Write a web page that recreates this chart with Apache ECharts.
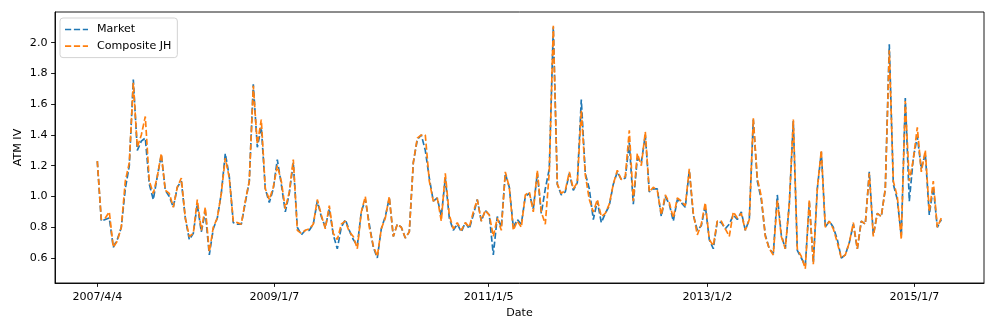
<!DOCTYPE html>
<html><head><meta charset="utf-8">
<script src="https://cdn.jsdelivr.net/npm/echarts@6/dist/echarts.min.js"></script>
<style>html,body{margin:0;padding:0;background:#fff}#c{width:997px;height:332px}</style>
</head><body><div id="c"></div>
<script>
// x tick labels (dates) and the sample index where each sits
const tickLabels = ['2007/4/4', '2009/1/7', '2011/1/5', '2013/1/2', '2015/1/7'];
const tickIndex = [0, 44.25, 97.85, 152.5, 204.25];
const yTicks = [0.6, 0.8, 1.0, 1.2, 1.4, 1.6, 1.8, 2.0];

const market = [
1.23,0.84,0.85,0.86,0.67,0.72,0.80,1.05,1.20,1.76,
1.30,1.36,1.38,1.08,0.98,1.13,1.27,1.04,1.00,0.93,
1.06,1.10,0.86,0.72,0.76,0.95,0.77,0.90,0.62,0.79,
0.86,1.02,1.28,1.13,0.83,0.82,0.82,0.96,1.10,1.73,
1.32,1.45,1.05,0.96,1.05,1.24,1.08,0.90,1.02,1.22,
0.80,0.75,0.78,0.78,0.82,0.97,0.87,0.80,0.92,0.75,
0.66,0.80,0.85,0.78,0.72,0.68,0.90,0.98,0.82,0.67,
0.60,0.79,0.87,0.99,0.74,0.82,0.80,0.73,0.77,1.22,
1.37,1.40,1.30,1.12,0.97,0.99,0.87,1.12,0.86,0.78,
0.82,0.77,0.83,0.79,0.88,0.98,0.84,0.91,0.88,0.62,
0.87,0.80,1.15,1.06,0.80,0.85,0.82,1.00,1.02,0.92,
1.15,0.89,1.05,1.18,2.10,1.08,1.01,1.03,1.15,1.04,
1.09,1.63,1.15,1.05,0.85,0.97,0.83,0.89,0.94,1.08,
1.16,1.11,1.12,1.35,0.95,1.25,1.22,1.40,1.03,1.05,
1.05,0.87,1.00,0.95,0.84,0.98,0.96,0.93,1.17,0.88,
0.78,0.81,0.94,0.72,0.66,0.84,0.83,0.79,0.82,0.88,
0.85,0.90,0.78,0.85,1.50,1.10,0.98,0.75,0.66,0.63,
1.01,0.75,0.66,0.95,1.49,0.65,0.60,0.55,0.96,0.57,
1.05,1.29,0.80,0.84,0.80,0.72,0.60,0.62,0.70,0.82,
0.66,0.84,0.82,1.16,0.75,0.89,0.87,1.05,1.99,1.08,
0.98,0.74,1.64,0.97,1.25,1.39,1.18,1.28,0.88,1.06,
0.80,0.85
];
const composite = [
1.23,0.85,0.86,0.90,0.67,0.71,0.80,1.10,1.22,1.74,
1.32,1.40,1.52,1.10,1.02,1.13,1.28,1.04,1.02,0.93,
1.06,1.12,0.86,0.74,0.76,0.98,0.78,0.93,0.64,0.80,
0.86,1.02,1.25,1.12,0.84,0.83,0.82,0.97,1.10,1.72,
1.34,1.50,1.05,0.98,1.06,1.20,1.10,0.92,1.03,1.24,
0.78,0.76,0.78,0.79,0.82,0.98,0.88,0.79,0.94,0.76,
0.72,0.82,0.84,0.77,0.74,0.66,0.90,1.00,0.80,0.68,
0.61,0.79,0.86,1.00,0.74,0.82,0.80,0.73,0.77,1.22,
1.38,1.40,1.40,1.10,0.97,0.99,0.84,1.15,0.88,0.79,
0.83,0.78,0.83,0.80,0.90,0.98,0.84,0.91,0.88,0.74,
0.86,0.78,1.16,1.06,0.78,0.84,0.80,1.01,1.03,0.90,
1.17,0.90,0.82,1.16,2.11,1.08,1.02,1.04,1.16,1.05,
1.09,1.56,1.14,0.98,0.90,0.98,0.87,0.89,0.95,1.08,
1.17,1.11,1.13,1.43,0.97,1.28,1.20,1.42,1.03,1.06,
1.04,0.88,1.01,0.96,0.86,0.99,0.97,0.94,1.18,0.89,
0.75,0.82,0.96,0.72,0.68,0.84,0.84,0.79,0.74,0.90,
0.86,0.89,0.78,0.85,1.51,1.12,1.00,0.74,0.66,0.62,
0.98,0.74,0.66,0.95,1.50,0.66,0.61,0.53,0.98,0.56,
1.05,1.30,0.80,0.84,0.79,0.70,0.60,0.62,0.70,0.83,
0.66,0.84,0.82,1.15,0.74,0.89,0.87,1.05,1.95,1.10,
1.00,0.72,1.62,1.10,1.24,1.45,1.16,1.30,0.90,1.10,
0.80,0.86
];

const FONT = 'DejaVu Sans';
const FS = 11.1;
const DASH_ICON = 'path://M0,0H6.2V1.7H0Z M8.9,0H15.1V1.7H8.9Z M17.8,0H23V1.7H17.8Z';
const chart = echarts.init(document.getElementById('c'), null, {renderer: 'canvas'});
const labelFor = v => {
  let best = 0;
  tickIndex.forEach((t, i) => { if (Math.abs(t - v) < Math.abs(tickIndex[best] - v)) best = i; });
  return tickLabels[best];
};
chart.setOption({
  animation: false,
  backgroundColor: '#fff',
  grid: {left: 55, right: 13, top: 12, bottom: 49, show: true, borderColor: '#000', borderWidth: 0.9, backgroundColor: 'transparent'},
  legend: {
    data: [{name: 'Market', icon: DASH_ICON}, {name: 'Composite JH', icon: DASH_ICON}],
    orient: 'vertical', left: 60, top: 18,
    itemWidth: 23, itemHeight: 1.7, itemGap: 3.6,
    symbolKeepAspect: false,
    padding: [5, 6, 5, 5],
    borderColor: '#d3d3d3', borderWidth: 1, borderRadius: 3,
    backgroundColor: 'rgba(255,255,255,0.8)',
    textStyle: {fontFamily: FONT, fontSize: FS, color: '#000', padding: [0, 0, 0, 4], lineHeight: 13}
  },
  xAxis: {
    type: 'value', min: -10.575, max: 221.675,
    name: 'Date', nameLocation: 'middle', nameGap: 25, nameMoveOverlap: false,
    nameTextStyle: {fontFamily: FONT, fontSize: FS, color: '#000'},
    axisLine: {show: true, onZero: false, lineStyle: {color: '#000', width: 0.9}},
    axisTick: {show: true, customValues: tickIndex, length: 3.9, lineStyle: {color: '#000', width: 0.9}},
    axisLabel: {customValues: tickIndex, formatter: labelFor, fontFamily: FONT, fontSize: FS, color: '#000', margin: 8.5},
    splitLine: {show: false}
  },
  yAxis: {
    type: 'value', min: 0.4375, max: 2.1996,
    name: 'ATM IV', nameLocation: 'middle', nameGap: 31, nameRotate: 90, nameMoveOverlap: false,
    nameTextStyle: {fontFamily: FONT, fontSize: FS, color: '#000'},
    axisLine: {show: true, onZero: false, lineStyle: {color: '#000', width: 0.9}},
    axisTick: {show: true, customValues: yTicks, length: 3.9, lineStyle: {color: '#000', width: 0.9}},
    axisLabel: {customValues: yTicks, formatter: v => v.toFixed(1), fontFamily: FONT, fontSize: FS, color: '#000', margin: 7.5},
    splitLine: {show: false}
  },
  series: [
    {name: 'Market', type: 'line', symbol: 'none', data: market.map((v, i) => [i, v]),
     itemStyle: {color: '#1f77b4'}, lineStyle: {color: '#1f77b4', width: 1.67, type: [6.2, 2.7]}},
    {name: 'Composite JH', type: 'line', symbol: 'none', data: composite.map((v, i) => [i, v]),
     itemStyle: {color: '#ff7f0e'}, lineStyle: {color: '#ff7f0e', width: 1.67, type: [6.2, 2.7]}}
  ]
});
</script></body></html>
